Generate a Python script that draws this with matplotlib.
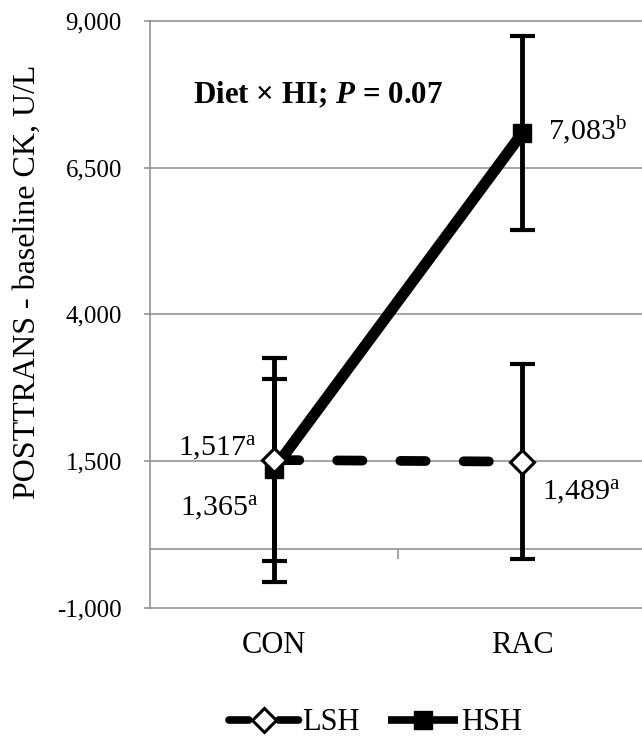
import numpy as np
import matplotlib
matplotlib.use("Agg")
import matplotlib.pyplot as plt
import matplotlib.transforms as mtransforms

plt.rcParams['font.family'] = ['Liberation Serif', 'DejaVu Serif']
plt.rcParams['mathtext.fontset'] = 'custom'
plt.rcParams['mathtext.rm'] = 'Liberation Serif'
plt.rcParams['mathtext.it'] = 'Liberation Serif:italic:bold'

# data
categories = ['CON', 'RAC']
lsh_mean = np.array([1517, 1489])
lsh_low = np.array([-570, -175])
lsh_high = np.array([3250, 3150])
hsh_mean = np.array([1365, 7083])
hsh_low = np.array([-200, 5435])
hsh_high = np.array([2890, 8745])
lsh_labels = ['1,517$^{\\rm a}$', '1,489$^{\\rm a}$']
hsh_labels = ['1,365$^{\\rm a}$', '7,083$^{\\rm b}$']
yticks = [-1000, 1500, 4000, 6500, 9000]
ytick_labels = ['-1,000', '1,500', '4,000', '6,500', '9,000']

gray = '#8c8c8c'
W, H = 642, 737

fig = plt.figure(figsize=(W / 100, H / 100), dpi=100)
ax = fig.add_axes([150 / W, 1 - 607.7 / H, 496 / W, 586.7 / H])

x = np.arange(len(categories))

# error bars
ax.errorbar(x, hsh_mean, yerr=[hsh_mean - hsh_low, hsh_high - hsh_mean], fmt='none',
            ecolor='black', elinewidth=3.5, capsize=9, capthick=3, zorder=3)
ax.errorbar(x, lsh_mean, yerr=[lsh_mean - lsh_low, lsh_high - lsh_mean], fmt='none',
            ecolor='black', elinewidth=3.5, capsize=9, capthick=3, zorder=3)

# means
ax.plot(x, hsh_mean, color='black', lw=8, marker='s', ms=13, mfc='black', mec='black',
        solid_capstyle='butt', zorder=4, label='HSH')
ax.plot(x, lsh_mean, color='black', lw=7, dashes=(2.6, 3.9), dash_capstyle='round',
        marker='D', ms=12.5, mfc='white', mec='black', mew=2.2, zorder=5, label='LSH')

# value labels
lab_kw = dict(textcoords='offset points', fontsize=21.5, va='baseline')
ax.annotate(lsh_labels[0], (x[0], lsh_mean[0]), xytext=(-12.5, 2.5), ha='right', **lab_kw)
ax.annotate(lsh_labels[1], (x[1], lsh_mean[1]), xytext=(14.4, -27.5), ha='left', **lab_kw)
ax.annotate(hsh_labels[0], (x[0], hsh_mean[0]), xytext=(-11.5, -34), ha='right', **lab_kw)
ax.annotate(hsh_labels[1], (x[1], hsh_mean[1]), xytext=(18.7, -4.7), ha='left', **lab_kw)

# axes
ax.set_xlim(-0.5, len(categories) - 0.5)
ax.set_ylim(-1000, 9000)
ax.set_yticks(yticks)
ax.set_yticklabels(ytick_labels)
ax.yaxis.grid(True, color=gray, lw=1.1)
ax.set_axisbelow(True)
for gl in ax.get_ygridlines():
    gl.set_clip_on(False)
ax.tick_params(axis='y', length=4.3, width=1.1, color=gray, labelsize=18, pad=16)

ax.spines['top'].set_visible(False)
ax.spines['right'].set_visible(False)
ax.spines['left'].set_color(gray)
ax.spines['left'].set_linewidth(1.1)
ax.spines['bottom'].set_position(('data', 0))
ax.spines['bottom'].set_color(gray)
ax.spines['bottom'].set_linewidth(1.1)
ax.set_xticks(x[:-1] + 0.5)
ax.tick_params(axis='x', length=7, width=1.1, color=gray, labelbottom=False)

trans = mtransforms.blended_transform_factory(ax.transData, ax.transAxes)
for i, c in enumerate(categories):
    ax.text(i, -0.0636, c, transform=trans, ha='center', va='center', fontsize=22)

fig.text(27 / W, 1 - 281.5 / H, 'POSTTRANS - baseline CK, U/L', rotation=90,
         ha='center', va='center', fontsize=23)
fig.text(193 / W, 1 - 103 / H, 'Diet × HI; $P$ = 0.07', fontweight='bold',
         fontsize=22.3, va='baseline')

handles, labels = ax.get_legend_handles_labels()
leg = fig.legend(handles[::-1], labels[::-1], loc='center',
                 bbox_to_anchor=(375.5 / W, 1 - 723 / H),
                 ncol=2, frameon=False, fontsize=22, handlelength=2.3, handletextpad=0.1,
                 columnspacing=0.9, numpoints=1, borderpad=0)
for h in leg.legend_handles:
    h.set_linewidth(5.5)

fig.savefig('out.png', dpi=100)
